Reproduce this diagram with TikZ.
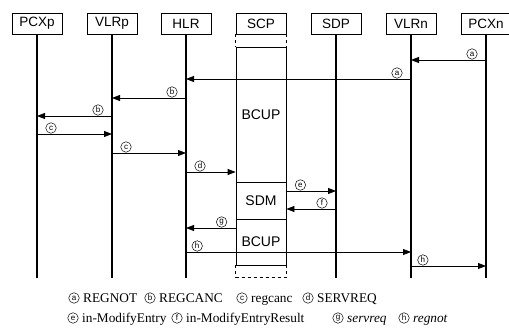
\documentclass[tikz,border=0pt]{standalone}
\usepackage{fontspec}
\setmainfont{Liberation Serif}
\newfontfamily\hv{Liberation Sans}
\usetikzlibrary{arrows.meta,calc}
\newcommand\msgline[6]{%
  \draw[msg] (#1 |- 0,#3) -- (#2 |- 0,#3);
  \node[lab] (#6) at ($(#1 |- 0,#3)+(#5*14,-6)$) {#4};}
\begin{document}
\begin{tikzpicture}[x=1pt,y=-1pt,
  hdr/.style={draw, line width=0.8pt, minimum width=50pt, minimum height=21pt, inner sep=0pt, font=\hv\fontsize{13.5}{15}\selectfont},
  life/.style={line width=1.4pt},
  msg/.style={line width=0.8pt, -{Triangle[length=8pt,width=6pt]}},
  lab/.style={circle, draw, line width=0.5pt, inner sep=0pt, minimum size=10.5pt, font=\hv\fontsize{8}{8}\selectfont},
  blk/.style={draw, line width=0.8pt, minimum width=50pt, inner sep=0pt, font=\hv\fontsize{14}{16}\selectfont},
  leg/.style={anchor=base west, inner sep=0pt, font=\fontsize{13.3}{15}\selectfont}
]
\useasboundingbox (0,0) rectangle (509,331);
\foreach \n/\x in {PCXp/37, VLRp/112, HLR/186, SCP/261, SDP/336, VLRn/411, PCXn/486}
  \node[hdr] (\n) at (\x,23.5) {\n};
\foreach \n in {PCXp,VLRp,HLR,SDP,VLRn,PCXn}
  \draw[life] (\n.south) -- (\n.south |- 0,278);
% SCP block
\node[blk, minimum height=135pt] (B1) at (261,114.5) {BCUP};
\node[blk, minimum height=37pt] (SDM) at (261,200.5) {SDM};
\node[blk, minimum height=46pt] (B2) at (261,242) {BCUP};
\draw[dashed, line width=0.7pt] (SCP.south west) -- (B1.north west);
\draw[dashed, line width=0.7pt] (SCP.south east) -- (B1.north east);
\draw[dashed, line width=0.7pt] (B2.south west) -- ++(0,12) coordinate (dw) -- (dw -| B2.south east) -- (B2.south east);
% messages
\msgline{PCXn.south}{VLRn.south}{60}{a}{-1}{la1}
\msgline{VLRn.south}{HLR.south}{79}{a}{-1}{la2}
\msgline{HLR.south}{VLRp.south}{98}{b}{-1}{lb1}
\msgline{VLRp.south}{PCXp.south}{116}{b}{-1}{lb2}
\msgline{PCXp.south}{VLRp.south}{134}{c}{1}{lc1}
\msgline{VLRp.south}{HLR.south}{153}{c}{1}{lc2}
\msgline{HLR.south}{B1.west}{172}{d}{1}{ld}
\msgline{B1.east}{SDP.south}{191}{e}{1}{le}
\msgline{SDP.south}{B1.east}{209}{f}{-1}{lf}
\msgline{B1.west}{HLR.south}{228}{g}{-1}{lg}
\msgline{HLR.south}{VLRn.south}{252}{h}{0.8}{lh1}
\msgline{VLRn.south}{PCXn.south}{266}{h}{0.85}{lh2}
% legend
\node[lab] (ka) at (74,298) {a}; \node[leg] (ta) at (83,302.5) {REGNOT};
\node[lab] (kb) at (150,298) {b}; \node[leg] (tb) at (159,302.5) {REGCANC};
\node[lab] (kc) at (242,298) {c}; \node[leg] (tc) at (251,302.5) {regcanc};
\node[lab] (kd) at (308,298) {d}; \node[leg] (td) at (317,302.5) {SERVREQ};
\node[lab] (ke) at (73,318) {e}; \node[leg] (te) at (82,322.5) {in-ModifyEntry};
\node[lab] (kf) at (177,318) {f}; \node[leg] (tf) at (186,322.5) {in-ModifyEntryResult};
\node[lab] (kg) at (338,318) {g}; \node[leg] (tg) at (347,322.5) {\itshape servreq};
\node[lab] (kh) at (404,318) {h}; \node[leg] (th) at (413,322.5) {\itshape regnot};
\end{tikzpicture}
\end{document}
